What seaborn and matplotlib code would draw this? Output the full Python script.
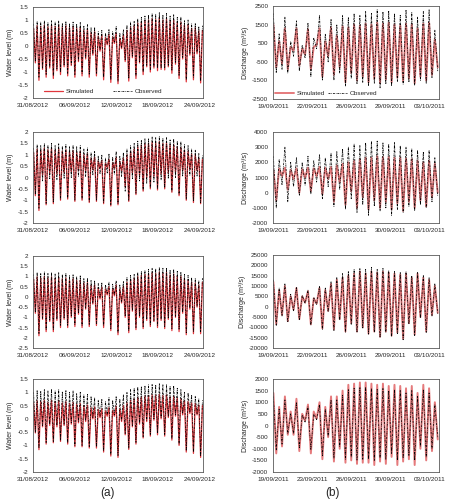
import numpy as np
import pandas as pd
import matplotlib
matplotlib.use("Agg")
import matplotlib.pyplot as plt
from matplotlib.ticker import FixedLocator, FuncFormatter
import seaborn as sns

# ---------------- data ----------------
left_tick_labels = ['31/08/2012', '06/09/2012', '12/09/2012', '18/09/2012', '24/09/2012']
right_tick_labels_1 = ['19/09/2011', '22/09/2011', '26/09/2011', '29/09/2011', '03/10/2011']
right_tick_labels_2 = ['19/09/2011', '23/09/2011', '26/09/2011', '30/09/2011', '03/10/2011']

# Panel a1 (high waters, low waters)
a1_obs_hi = [0.85, 0.95, 0.92, 0.98, 0.9, 0.97, 0.92, 0.96, 0.88, 0.95, 0.87, 0.92,
             0.85, 0.9, 0.78, 0.82, 0.7, 0.72,
             0.55, 0.6, 0.5, 0.65, 0.55, 0.75, 0.5, 0.62,
             0.8, 0.92, 0.95, 1.05, 1.1, 1.15,
             1.2, 1.25, 1.22, 1.28, 1.2, 1.25, 1.15, 1.2,
             1.1, 1.12, 0.98, 1.0, 0.85, 0.88, 0.75, 0.78]
a1_sim_hi = [0.68, 0.78, 0.75, 0.8, 0.74, 0.8, 0.75, 0.8, 0.72, 0.78, 0.7, 0.75,
             0.68, 0.72, 0.6, 0.65, 0.52, 0.55,
             0.38, 0.42, 0.32, 0.45, 0.35, 0.5, 0.3, 0.42,
             0.6, 0.72, 0.78, 0.88, 0.92, 0.98,
             1.0, 1.05, 1.02, 1.08, 1.0, 1.05, 0.95, 1.0,
             0.9, 0.92, 0.8, 0.82, 0.68, 0.7, 0.58, 0.6]
a1_sim_lo = [-0.65, -1.32, -0.9, -1.2, -0.85, -1.25, -0.95, -1.1, -0.8, -1.15, -0.75, -1.2,
             -0.6, -1.15, -0.5, -1.2, -0.35, -1.15,
             -0.2, -1.3, 0.05, -1.4, 0.1, -1.45, -0.1, -0.6,
             -1.35, -0.45, -1.25, -0.65, -1.1, -0.8,
             -1.0, -0.85, -0.95, -0.9, -0.92, -0.8, -1.05, -0.7,
             -1.25, -0.5, -1.38, -0.35, -1.3, -0.3, -1.42]
a1_obs_lo = [-0.6, -1.2, -0.85, -1.1, -0.8, -1.15, -0.9, -1.0, -0.75, -1.05, -0.7, -1.1,
             -0.55, -1.05, -0.45, -1.1, -0.3, -1.05,
             -0.15, -1.2, 0.1, -1.3, 0.15, -1.35, -0.05, -0.55,
             -1.25, -0.4, -1.15, -0.6, -1.0, -0.75,
             -0.9, -0.8, -0.85, -0.85, -0.85, -0.75, -0.95, -0.65,
             -1.15, -0.45, -1.3, -0.3, -1.2, -0.25, -1.35]

# Panel a2
a2_obs_hi = [1.3, 1.45, 1.4, 1.5, 1.42, 1.5, 1.4, 1.48, 1.38, 1.45, 1.35, 1.42,
             1.35, 1.4, 1.25, 1.3, 1.1, 1.15,
             0.95, 1.0, 0.85, 1.05, 0.9, 1.15, 0.95, 1.1,
             1.25, 1.4, 1.5, 1.6, 1.65, 1.7,
             1.72, 1.78, 1.75, 1.8, 1.72, 1.75, 1.65, 1.7,
             1.6, 1.58, 1.45, 1.4, 1.25, 1.2, 1.05, 1.0]
a2_sim_hi = [1.1, 1.25, 1.2, 1.3, 1.22, 1.28, 1.2, 1.25, 1.15, 1.22, 1.12, 1.18,
             1.1, 1.15, 1.0, 1.05, 0.85, 0.9,
             0.72, 0.75, 0.62, 0.8, 0.65, 0.88, 0.7, 0.85,
             1.0, 1.15, 1.25, 1.35, 1.42, 1.48,
             1.5, 1.55, 1.52, 1.58, 1.5, 1.52, 1.42, 1.45,
             1.35, 1.32, 1.2, 1.15, 1.02, 0.98, 0.85, 0.8]
a2_sim_lo = [-0.8, -1.45, 0.1, -1.2, 0.2, -1.15, 0.15, -1.0, 0.2, -0.95, 0.25, -1.05,
             0.3, -1.0, 0.3, -1.1, 0.35, -1.05,
             0.4, -1.15, 0.45, -1.25, 0.4, -1.2, 0.3, -0.4,
             -1.05, 0.2, -0.75, 0.1, -0.6, 0.0,
             -0.5, 0.05, -0.55, 0.15, -0.5, 0.2, -0.65, 0.25,
             -0.8, 0.3, -1.0, 0.35, -1.1, 0.3, -1.15]
a2_obs_lo = [-0.75, -1.35, -0.15, -1.15, -0.05, -1.1, -0.1, -0.95, -0.05, -0.9, 0.0, -1.0,
             0.05, -0.95, 0.05, -1.05, 0.1, -1.0,
             0.15, -1.1, 0.2, -1.2, 0.15, -1.15, 0.05, -0.6,
             -1.0, -0.05, -0.7, -0.15, -0.55, -0.25,
             -0.45, -0.2, -0.5, -0.1, -0.45, -0.05, -0.6, 0.0,
             -0.75, 0.05, -0.95, 0.1, -1.05, 0.05, -1.1]

# Panel a3
a3_obs_hi = [1.1, 1.2, 1.15, 1.22, 1.15, 1.2, 1.12, 1.18, 1.1, 1.15, 1.05, 1.1,
             1.0, 1.05, 0.9, 0.92, 0.8, 0.8,
             0.65, 0.7, 0.6, 0.72, 0.62, 0.8, 0.6, 0.75,
             0.95, 1.05, 1.1, 1.2, 1.25, 1.3,
             1.35, 1.4, 1.38, 1.45, 1.4, 1.42, 1.32, 1.35,
             1.25, 1.22, 1.1, 1.05, 0.95, 0.9, 0.8, 0.95]
a3_sim_hi = [0.88, 0.98, 0.92, 1.0, 0.92, 0.98, 0.9, 0.95, 0.88, 0.92, 0.82, 0.88,
             0.8, 0.82, 0.68, 0.7, 0.55, 0.58,
             0.42, 0.48, 0.38, 0.5, 0.4, 0.58, 0.38, 0.52,
             0.72, 0.85, 0.9, 1.0, 1.05, 1.1,
             1.12, 1.18, 1.15, 1.22, 1.15, 1.2, 1.08, 1.12,
             1.02, 1.0, 0.88, 0.82, 0.72, 0.68, 0.58, 0.72]
a3_sim_lo = [-0.8, -1.9, -1.1, -1.7, -1.2, -1.7, -1.15, -1.5, -1.1, -1.5, -1.0, -1.45,
             -0.85, -1.5, -0.6, -1.45, -0.35, -1.4,
             -0.1, -1.5, 0.1, -1.65, 0.05, -1.85, -0.3, -1.0,
             -1.75, -0.7, -1.6, -1.0, -1.55, -1.15,
             -1.45, -1.2, -1.5, -1.15, -1.55, -1.1, -1.65, -1.0,
             -1.7, -0.8, -1.85, -0.6, -1.8, -0.5, -1.8]
a3_obs_lo = [-0.75, -1.8, -1.05, -1.6, -1.15, -1.6, -1.1, -1.4, -1.05, -1.4, -0.95, -1.35,
             -0.8, -1.4, -0.55, -1.35, -0.3, -1.3,
             -0.05, -1.4, 0.15, -1.55, 0.1, -1.75, -0.25, -0.95,
             -1.65, -0.65, -1.5, -0.95, -1.45, -1.1,
             -1.35, -1.15, -1.4, -1.1, -1.45, -1.05, -1.55, -0.95,
             -1.6, -0.75, -1.75, -0.55, -1.7, -0.45, -1.7]

# Panel a4
a4_obs_hi = [1.0, 1.08, 1.05, 1.1, 1.05, 1.12, 1.05, 1.1, 1.02, 1.08, 1.0, 1.05,
             0.95, 1.0, 0.9, 0.92, 0.85, 0.8,
             0.7, 0.75, 0.65, 0.8, 0.7, 0.85, 0.75, 0.9,
             1.0, 1.1, 1.15, 1.2, 1.22, 1.25,
             1.28, 1.3, 1.28, 1.32, 1.28, 1.3, 1.22, 1.25,
             1.15, 1.1, 1.0, 0.98, 0.9, 0.85, 0.75, 0.7]
a4_sim_hi = [0.6, 0.68, 0.65, 0.7, 0.62, 0.7, 0.65, 0.68, 0.6, 0.65, 0.58, 0.62,
             0.55, 0.58, 0.5, 0.52, 0.42, 0.45,
             0.35, 0.38, 0.3, 0.42, 0.32, 0.48, 0.38, 0.5,
             0.6, 0.7, 0.75, 0.8, 0.82, 0.85,
             0.88, 0.9, 0.88, 0.92, 0.88, 0.9, 0.82, 0.85,
             0.78, 0.75, 0.68, 0.65, 0.6, 0.58, 0.52, 0.5]
a4_sim_lo = [-0.53, -1.16, -0.3, -0.95, -0.25, -0.9, -0.3, -0.85, -0.25, -0.95, -0.2, -1.05,
             -0.15, -1.05, -0.1, -1.1, 0.0, -1.1,
             0.05, -1.25, 0.1, -1.4, 0.1, -1.45, -0.1, -0.6,
             -1.15, -0.3, -0.95, -0.2, -0.72, -0.1,
             -0.65, -0.05, -0.6, 0.0, -0.65, 0.05, -0.8, 0.1,
             -1.0, 0.15, -1.25, 0.2, -1.3, 0.15, -1.45]
a4_obs_lo = [-0.5, -1.1, -0.25, -0.9, -0.2, -0.85, -0.25, -0.8, -0.2, -0.9, -0.15, -1.0,
             -0.1, -1.0, -0.05, -1.05, 0.05, -1.05,
             0.1, -1.2, 0.15, -1.35, 0.15, -1.4, -0.05, -0.55,
             -1.1, -0.25, -0.9, -0.15, -0.68, -0.05,
             -0.6, 0.0, -0.55, 0.05, -0.6, 0.1, -0.75, 0.15,
             -0.95, 0.2, -1.2, 0.25, -1.25, 0.2, -1.4]

# Panel b1 (discharge, m3/s)
b1_sim_hi = [1500, 600, 1300, 300, 1300, 200, 1250, 300, 1300, 600, 1350, 900, 1400, 1350,
             1500, 1450, 1550, 1500, 1600, 1550, 1600, 1500, 1450, 1550, 1500, 1300, 1550, 1600, 700]
b1_sim_lo = [-800, -600, -900, 100, -700, -100, -900, 400, -1300, -200, -1200, -800, -1600, -1100,
             -1500, -1300, -1600, -1400, -1650, -1450, -1600, -1350, -1550, -1400, -1650, -1300, -1500, -1200, -800]
b1_obs_hi = [2100, 1000, 1900, 600, 1700, 400, 1600, 800, 2000, 1000, 1800, 1500, 2000, 1900,
             2100, 2000, 2200, 2100, 2300, 2200, 2250, 2100, 2000, 2300, 2150, 1900, 2200, 2300, 1200]
b1_obs_lo = [-1100, -900, -1100, -200, -1000, -300, -1300, 200, -1500, -500, -1500, -1100, -1800, -1400,
             -1700, -1600, -1800, -1650, -1900, -1700, -1800, -1550, -1700, -1600, -1750, -1500, -1650, -1350, -1000]

# Panel b2
b2_sim_hi = [1500, 1600, 1650, 1500, 1600, 1550, 1650, 1600, 1700, 1650, 1700, 1800, 1900, 2000,
             2100, 2200, 2300, 2300, 2400, 2350, 2350, 2300, 2300, 2250, 2200, 2100, 2000, 2100, 1900]
b2_sim_lo = [-500, 1100, 200, 900, 0, 1000, 100, 1100, -100, 900, -600, 700, -800, 100,
             -1000, -300, -1100, -500, -1000, -600, -1100, -700, -1200, -600, -1000, -500, -900, -300, 0]
b2_obs_hi = [2400, 2200, 3000, 2000, 2300, 2000, 2400, 2100, 2500, 2300, 2600, 2700, 2900, 3000,
             3200, 3100, 3300, 3400, 3400, 3300, 3200, 3300, 3100, 3000, 2900, 2800, 2700, 2800, 2300]
b2_obs_lo = [-1000, 500, -600, 400, -200, 500, -100, 700, -400, 400, -900, 200, -1100, -400,
             -1300, -800, -1500, -900, -1200, -1000, -1500, -1100, -1300, -900, -1200, -800, -1000, -600, -200]

# Panel b3
b3_sim_hi = [12000, 8000, 10000, 5000, 9000, 5000, 7500, 4000, 9000, 8000, 11000, 13000, 14000, 15000,
             16000, 17000, 16000, 17000, 16500, 17000, 16500, 16000, 15500, 16000, 14000, 16000, 14000, 13000, 10000]
b3_sim_lo = [-8500, -4000, -7000, -1500, -6000, 2000, -8500, 1500, -10500, -2000, -11000, -6000, -12000, -8000,
             -12000, -10000, -13000, -12000, -14500, -12000, -14000, -12500, -15500, -8000, -13500, -5000, -12000, -4000, -3000]
b3_obs_hi = [13000, 9000, 11000, 6000, 9500, 5500, 8000, 4500, 10000, 9000, 12000, 14000, 16000, 17000,
             18000, 18500, 18000, 19000, 18000, 18500, 17500, 17000, 16500, 17000, 15000, 16500, 15000, 14000, 11000]
b3_obs_lo = [-9000, -4500, -7500, -2000, -6500, 1500, -9000, 1000, -11000, -2500, -11500, -6500, -12500, -8500,
             -12500, -10500, -13500, -12500, -15000, -12500, -14500, -13000, -16000, -8500, -14000, -5500, -12500, -4500, -3500]

# Panel b4
b4_sim_hi = [1400, 800, 1250, 600, 1150, 500, 900, 600, 1000, 800, 1250, 1250, 1500, 1750,
             1800, 1850, 1850, 1800, 1750, 1800, 1700, 1750, 1700, 1600, 1700, 1400, 1750, 1600, 1000]
b4_sim_lo = [-1200, -900, -400, -400, -1100, 200, -1200, 300, -1450, -500, -1550, -1000, -1600, -1500,
             -1650, -1600, -1600, -1700, -1550, -1650, -1350, -1700, -1550, -1450, -1700, -1000, -1500, -1100, -600]
b4_obs_hi = [1250, 700, 1100, 500, 1000, 450, 800, 500, 900, 700, 1100, 1100, 1300, 1550,
             1600, 1650, 1650, 1600, 1550, 1600, 1500, 1550, 1500, 1400, 1500, 1250, 1550, 1400, 900]
b4_obs_lo = [-1050, -800, -350, -350, -950, 150, -1050, 250, -1300, -450, -1400, -900, -1450, -1350,
             -1500, -1450, -1450, -1500, -1400, -1450, -1200, -1500, -1400, -1300, -1500, -900, -1350, -1000, -500]

# ---------------- helpers ----------------
HALF_TIDE = 0.25875  # days between successive high and low water


def interleave(hi, lo):
    out = []
    for i in range(max(len(hi), len(lo))):
        if i < len(hi):
            out.append(hi[i])
        if i < len(lo):
            out.append(lo[i])
    return out


sns.set_style("white")
plt.rcParams['font.family'] = ['Liberation Sans', 'DejaVu Sans']

fig = plt.figure(figsize=(4.5, 5.0), dpi=100)

RED_A = '#e0363c'
RED_B = '#e57a7c'
OBS_DASH = (0, (2.6, 1.2, 0.8, 1.2))

left_panels = [
    (a1_obs_hi, a1_obs_lo, a1_sim_hi, a1_sim_lo, (-2, 1.5), 0.804, 0.182),
    (a2_obs_hi, a2_obs_lo, a2_sim_hi, a2_sim_lo, (-2, 2), 0.554, 0.182),
    (a3_obs_hi, a3_obs_lo, a3_sim_hi, a3_sim_lo, (-2.5, 2), 0.304, 0.184),
    (a4_obs_hi, a4_obs_lo, a4_sim_hi, a4_sim_lo, (-2, 1.5), 0.056, 0.186),
]
right_panels = [
    (b1_obs_hi, b1_obs_lo, b1_sim_hi, b1_sim_lo, (-2500, 2500), 1000, right_tick_labels_1, 0.802, 0.186),
    (b2_obs_hi, b2_obs_lo, b2_sim_hi, b2_sim_lo, (-2000, 4000), 1000, right_tick_labels_2, 0.554, 0.182),
    (b3_obs_hi, b3_obs_lo, b3_sim_hi, b3_sim_lo, (-20000, 25000), 5000, right_tick_labels_1, 0.304, 0.186),
    (b4_obs_hi, b4_obs_lo, b4_sim_hi, b4_sim_lo, (-2000, 2000), 500, right_tick_labels_2, 0.056, 0.186),
]


def style_axes(ax):
    for sp in ax.spines.values():
        sp.set_visible(True)
        sp.set_color('#595959')
        sp.set_linewidth(0.6)
    ax.tick_params(axis='both', which='both', direction='out', length=2, width=0.5,
                   color='#595959', pad=1.5)
    ax.tick_params(axis='y', labelsize=4.5)
    ax.tick_params(axis='x', labelsize=4.6)
    ax.yaxis.set_major_formatter(FuncFormatter(lambda v, p: ('%g' % v)))
    ax.set_xlabel('')


for i, (oh, ol, sh, sl, ylim, bot, h) in enumerate(left_panels):
    ax = fig.add_axes([0.0733, bot, 0.378, h])
    sim = interleave(sh, sl)
    obs = interleave(oh, ol)
    t = 0.083 + np.arange(len(sim)) * HALF_TIDE
    df = pd.DataFrame({'t': t, 'sim': sim, 'obs': obs})
    sns.lineplot(data=df, x='t', y='sim', ax=ax, color=RED_A, lw=0.9, sort=False,
                 estimator=None, label='Simulated' if i == 0 else None, legend=False)
    sns.lineplot(data=df, x='t', y='obs', ax=ax, color='black', lw=0.55, sort=False,
                 estimator=None, linestyle=OBS_DASH, label='Observed' if i == 0 else None,
                 legend=False)
    ax.set_xlim(0, 24.5)
    ax.set_ylim(*ylim)
    ax.yaxis.set_major_locator(FixedLocator(np.arange(ylim[0], ylim[1] + 0.01, 0.5)))
    ax.xaxis.set_major_locator(FixedLocator([0, 6, 12, 18, 24]))
    ax.set_xticklabels(left_tick_labels)
    ax.set_ylabel('Water level (m)', fontsize=5, labelpad=2)
    style_axes(ax)
    if i == 0:
        ax.legend(loc='center', bbox_to_anchor=(0.41, 0.07), ncol=2, frameon=False,
                  fontsize=4.6, handlelength=3.0, columnspacing=3.0, handletextpad=0.4)

for i, (oh, ol, sh, sl, ylim, step, xlabels, bot, h) in enumerate(right_panels):
    ax = fig.add_axes([0.607, bot, 0.369, h])
    sim = interleave(sh, sl)
    obs = interleave(oh, ol)
    t = 0.02 + np.arange(len(sim)) * HALF_TIDE
    df = pd.DataFrame({'t': t, 'sim': sim, 'obs': obs})
    sns.lineplot(data=df, x='t', y='sim', ax=ax, color=RED_B, lw=1.4, sort=False,
                 estimator=None, label='Simulated' if i == 0 else None, legend=False)
    sns.lineplot(data=df, x='t', y='obs', ax=ax, color='black', lw=0.55, sort=False,
                 estimator=None, linestyle=OBS_DASH, label='Observed' if i == 0 else None,
                 legend=False)
    ax.set_xlim(0, 14.9)
    ax.set_ylim(*ylim)
    ax.yaxis.set_major_locator(FixedLocator(np.arange(ylim[0], ylim[1] + 1, step)))
    ax.xaxis.set_major_locator(FixedLocator([0, 3.5, 7, 10.5, 14]))
    ax.set_xticklabels(xlabels)
    ax.set_ylabel('Discharge (m\u00b3/s)', fontsize=5, labelpad=2)
    style_axes(ax)
    if i == 0:
        ax.legend(loc='center', bbox_to_anchor=(0.32, 0.06), ncol=2, frameon=False,
                  fontsize=4.6, handlelength=3.0, columnspacing=0.5, handletextpad=0.4)

fig.text(0.238, 0.014, '(a)', fontsize=8.5, ha='center', va='center')
fig.text(0.74, 0.014, '(b)', fontsize=8.5, ha='center', va='center')

fig.savefig('out.png', dpi=100, facecolor='white')
